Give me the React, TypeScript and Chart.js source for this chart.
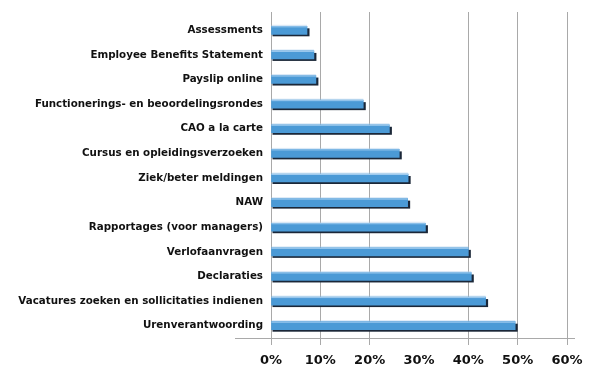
import React, { useEffect, useRef } from "react";
import { Chart, registerables } from "chart.js";

Chart.register(...registerables);

const categories = [
  "Assessments",
  "Employee Benefits Statement",
  "Payslip online",
  "Functionerings- en beoordelingsrondes",
  "CAO a la carte",
  "Cursus en opleidingsverzoeken",
  "Ziek/beter meldingen",
  "NAW",
  "Rapportages (voor managers)",
  "Verlofaanvragen",
  "Declaraties",
  "Vacatures zoeken en sollicitaties indienen",
  "Urenverantwoording",
];

const values = [7.3, 8.7, 9.1, 18.7, 24.0, 26.0, 27.8, 27.7, 31.3, 40.0, 40.6, 43.5, 49.5];

const xTickValues = [0, 10, 20, 30, 40, 50, 60];
const hiddenGridValues = [30];

const FONT = "'DejaVu Sans', 'Liberation Sans', sans-serif";
const GRID = "#a9a9a9";

const align = (px: number) => Math.round(px - 0.5) + 0.5;

const barDecor = {
  id: "barDecor",
  beforeDatasetsDraw(chart: any) {
    const ctx = chart.ctx;
    const meta = chart.getDatasetMeta(0);
    ctx.save();
    meta.data.forEach((el: any) => {
      const p = el.getProps(["x", "y", "base", "height"], true);
      const top = p.y - p.height / 2;
      ctx.fillStyle = "rgba(170,205,235,0.45)";
      ctx.fillRect(p.base, top - 1.5, p.x - p.base, 1.5);
      ctx.fillStyle = "#1b2738";
      ctx.fillRect(p.base + 1, top + 2, p.x - p.base + 1.5, p.height);
    });
    ctx.restore();
  },
  afterDatasetsDraw(chart: any) {
    const ctx = chart.ctx;
    const meta = chart.getDatasetMeta(0);
    ctx.save();
    meta.data.forEach((el: any) => {
      const p = el.getProps(["x", "y", "base", "height"], true);
      const top = p.y - p.height / 2;
      ctx.fillStyle = "#9fcbef";
      ctx.fillRect(p.base, top, p.x - p.base, 1);
    });
    ctx.restore();
  },
  afterDraw(chart: any) {
    const ctx = chart.ctx;
    const xs = chart.scales.x;
    const area = chart.chartArea;
    ctx.save();
    ctx.strokeStyle = GRID;
    ctx.lineWidth = 1;
    xTickValues.forEach((v) => {
      if (hiddenGridValues.includes(v)) return;
      const px = align(xs.getPixelForValue(v));
      ctx.beginPath();
      ctx.moveTo(px, area.top - 6);
      ctx.lineTo(px, area.top);
      ctx.stroke();
    });
    const by = align(area.bottom);
    ctx.beginPath();
    ctx.moveTo(area.left - 36, by);
    ctx.lineTo(area.right + 8, by);
    ctx.stroke();
    ctx.restore();
  },
};

export default function App() {
  const ref = useRef<HTMLCanvasElement | null>(null);
  useEffect(() => {
    if (!ref.current) return;
    const chart = new Chart(ref.current, {
      type: "bar",
      data: {
        labels: categories,
        datasets: [
          {
            data: values,
            backgroundColor: "#4b9ad6",
            borderWidth: 0,
            barThickness: 8,
          },
        ],
      },
      options: {
        indexAxis: "y",
        animation: false,
        responsive: false,
        maintainAspectRatio: false,
        layout: { padding: { top: 18, right: 33, left: 0, bottom: 0 } },
        plugins: { legend: { display: false }, tooltip: { enabled: false } },
        scales: {
          x: {
            min: 0,
            max: 60,
            afterBuildTicks: (scale: any) => {
              scale.ticks = xTickValues.map((v) => ({ value: v }));
            },
            afterFit: (scale: any) => {
              scale.height = 36;
            },
            ticks: {
              callback: (v: any) => v + "%",
              color: "#111",
              font: { family: FONT, size: 13, weight: "bold" },
              padding: 8,
              maxRotation: 0,
              autoSkip: false,
            },
            grid: {
              color: (c: any) =>
                c.tick && hiddenGridValues.includes(c.tick.value) ? "rgba(0,0,0,0)" : GRID,
              drawTicks: true,
              tickLength: 7,
            },
            border: { display: true, color: GRID },
          },
          y: {
            afterFit: (scale: any) => {
              scale.width = 271;
            },
            ticks: {
              color: "#111",
              font: { family: FONT, size: 10.3, weight: "bold" },
              padding: 8,
              autoSkip: false,
            },
            grid: { display: false, drawTicks: false },
            border: { display: true, color: GRID },
          },
        },
      },
      plugins: [barDecor],
    });
    return () => chart.destroy();
  }, []);
  return (
    <div style={{ position: "fixed", left: 0, top: 0, width: 600, height: 374, background: "#fff" }}>
      <canvas ref={ref} width={600} height={374} style={{ width: 600, height: 374 }} />
    </div>
  );
}
